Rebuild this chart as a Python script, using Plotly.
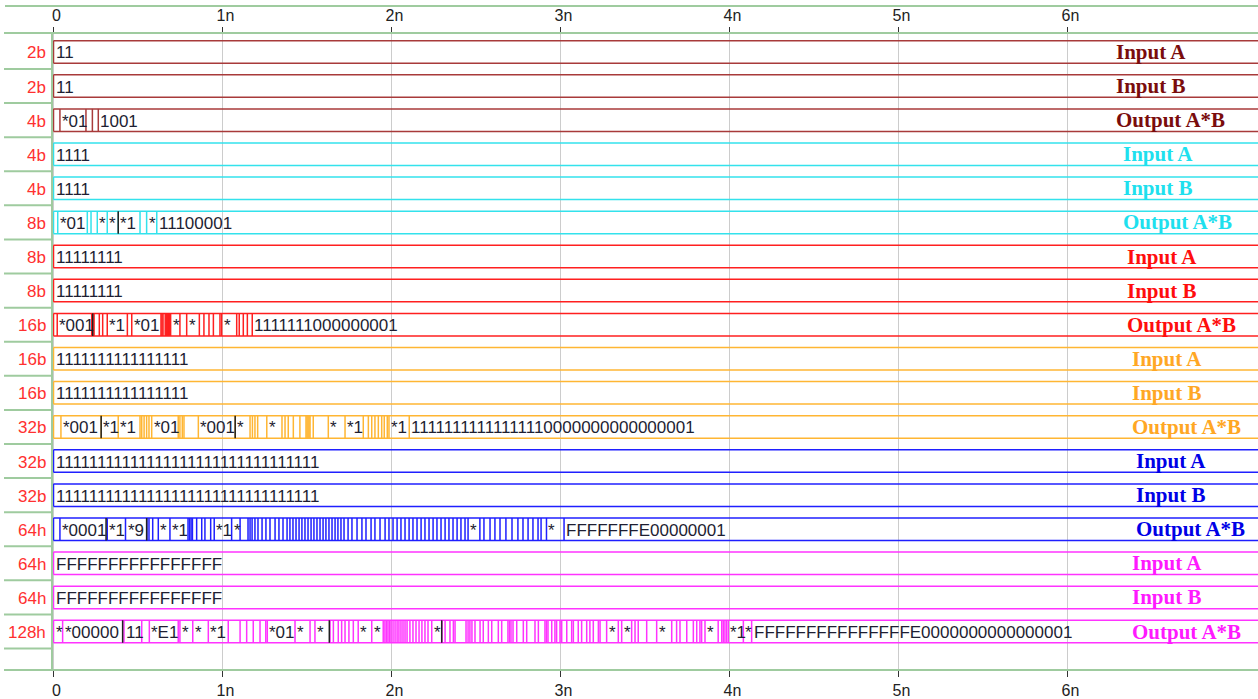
import plotly.graph_objects as go

# ---------------- time axis (picoseconds) ----------------
TICK_PS = [0, 1000, 2000, 3000, 4000, 5000, 6000]
TICK_TEXT = ["0", "1n", "2n", "3n", "4n", "5n", "6n"]
X_RANGE = [-316.6, 7127.2]
T_END = 7300

# ---------------- signal list ----------------
ROW_WIDTHS = ["2b", "2b", "4b", "4b", "4b", "8b", "8b", "8b", "16b", "16b", "16b",
              "32b", "32b", "32b", "64h", "64h", "64h", "128h"]
ROW_NAMES = ["Input A", "Input B", "Output A*B",
             "Input A", "Input B", "Output A*B",
             "Input A", "Input B", "Output A*B",
             "Input A", "Input B", "Output A*B",
             "Input A", "Input B", "Output A*B",
             "Input A", "Input B", "Output A*B"]

# constant operands
in2_a = "11"
in2_b = "11"
in4_a = "1111"
in4_b = "1111"
in8_a = "11111111"
in8_b = "11111111"
in16_a = "1111111111111111"
in16_b = "1111111111111111"
in32_a = "11111111111111111111111111111111"
in32_b = "11111111111111111111111111111111"
in64_a = "FFFFFFFFFFFFFFFF"
in64_b = "FFFFFFFFFFFFFFFF"

# product buses: transition times (ps), shown value per segment start, dark glitch marks
out4_t = [0, 38, 192, 230, 265]
out4_lbl = {38: "*01", 265: "1001"}
out4_dark = []

out8_t = [0, 25, 200, 222, 259, 318, 383, 512, 551, 611]
out8_lbl = {25: "*01", 259: "*", 318: "*", 383: "*1", 551: "*", 611: "11100001"}
out8_dark = [383]

out16_t = [0, 22, 226, 232, 240, 271, 291, 318, 437, 463, 636, 642, 648, 661, 667,
           673, 679, 685, 693, 748, 788, 863, 890, 920, 946, 985, 995, 1084, 1099,
           1123, 1147, 1176]
out16_lbl = {22: "*001", 318: "*1", 463: "*01", 693: "*", 788: "*", 995: "*",
             1176: "1111111000000001"}
out16_dark = [232]

out32_t = [0, 44, 282, 383, 512, 522, 536, 551, 565, 581, 738, 748, 762, 772, 857,
           1075, 1163, 1177, 1192, 1208, 1262, 1352, 1370, 1389, 1419, 1458, 1494,
           1500, 1506, 1512, 1518, 1537, 1626, 1725, 1833, 1863, 1883, 1902, 1922,
           1942, 1957, 1975, 1985, 2105]
out32_lbl = {44: "*001", 282: "*1", 383: "*1", 581: "*01", 857: "*001", 1075: "*",
             1262: "*", 1626: "*", 1725: "*1", 1985: "*1",
             2105: "11111111111111110000000000000001"}
out32_dark = [282, 1075]

out64_t = [0, 38, 318, 426, 553, 565, 587, 620, 689, 796, 805, 814, 822, 847, 877,
           896, 930, 951, 1054, 1104, 1151, 1163, 1175, 1192, 1210, 1234, 1257,
           1281, 1311, 1334, 1358, 1382, 1399, 1417, 1435, 1453, 1470, 1488, 1506,
           1524, 1541, 1559, 1577, 1595, 1612, 1630, 1648, 1666, 1683, 1701, 1719,
           1743, 1766, 1796, 1825, 1849, 1879, 1902, 1932, 1962, 1985, 2009, 2033,
           2056, 2080, 2104, 2127, 2151, 2175, 2198, 2222, 2246, 2269, 2293, 2317,
           2340, 2364, 2388, 2411, 2435, 2453, 2523, 2547, 2583, 2612, 2642, 2677,
           2713, 2748, 2778, 2808, 2837, 2867, 2885, 2917, 3021]
out64_lbl = {38: "*0001", 318: "*1", 426: "*9", 620: "*", 689: "*1", 951: "*1",
             1054: "*", 2453: "*", 2917: "*", 3021: "FFFFFFFE00000001"}
out64_dark = [311, 551]

out128_t = [0, 54, 417, 522, 567, 738, 748, 824, 916, 1034, 1104, 1143, 1182, 1222,
            1256, 1265, 1429, 1518, 1547, 1636, 1656, 1685, 1705, 1725, 1748, 1774,
            1803, 1883, 1951, 1961, 1970, 1979, 1988, 1997, 2009, 2021, 2033, 2044,
            2056, 2068, 2080, 2092, 2109, 2127, 2145, 2163, 2180, 2198, 2216, 2238,
            2299, 2317, 2346, 2366, 2376, 2441, 2453, 2464, 2476, 2494, 2524, 2543,
            2573, 2593, 2632, 2652, 2689, 2698, 2707, 2719, 2741, 2780, 2800, 2849,
            2869, 2908, 2917, 2926, 2948, 2967, 2977, 2997, 3007, 3037, 3066, 3076,
            3105, 3125, 3155, 3174, 3194, 3224, 3234, 3273, 3342, 3362, 3421, 3441,
            3460, 3510, 3569, 3658, 3687, 3707, 3747, 3786, 3806, 3825, 3835, 3855,
            3933, 3954, 3963, 3973, 3983, 3993, 4082, 4131]
out128_lbl = {0: "*", 54: "*00000", 417: "11", 567: "*E1", 748: "*", 824: "*",
              916: "*1", 1265: "*01", 1429: "*", 1547: "*", 1803: "*", 1883: "*",
              2238: "*", 3273: "*", 3362: "*", 3569: "*", 3855: "*", 3993: "*1",
              4082: "*", 4131: "FFFFFFFFFFFFFFFE0000000000000001"}
out128_dark = [409, 1632, 2297]

ROWS = [
    ([0], {0: in2_a}, []), ([0], {0: in2_b}, []), (out4_t, out4_lbl, out4_dark),
    ([0], {0: in4_a}, []), ([0], {0: in4_b}, []), (out8_t, out8_lbl, out8_dark),
    ([0], {0: in8_a}, []), ([0], {0: in8_b}, []), (out16_t, out16_lbl, out16_dark),
    ([0], {0: in16_a}, []), ([0], {0: in16_b}, []), (out32_t, out32_lbl, out32_dark),
    ([0], {0: in32_a}, []), ([0], {0: in32_b}, []), (out64_t, out64_lbl, out64_dark),
    ([0], {0: in64_a}, []), ([0], {0: in64_b}, []), (out128_t, out128_lbl, out128_dark),
]

# ---------------- styling ----------------
GROUP_LINE = ["#a83a3a", "#33e2ec", "#ff1f1f", "#ffb633", "#1f1fff", "#ff33ff"]
GROUP_TEXT = ["#7a0c0c", "#1ee0ee", "#ff0d0d", "#ffa724", "#0000e6", "#ff19ff"]
NAME_LEFT_PX = [1114, 1121, 1125, 1130, 1134, 1130]
GREEN = "#9fcb9f"
VALUE_COLOR = "#1e1e32"
W, H = 1258, 699
TOP, BOTTOM = 33, 672
HALF = 0.33
Y_RANGE = [18.129, -0.5556]

fig = go.Figure()

for i, (times, labels, darks) in enumerate(ROWS):
    g = i // 3
    xs = [0, T_END, None, 0, T_END, None]
    ys = [i - HALF, i - HALF, None, i + HALF, i + HALF, None]
    for t in times:
        xs += [t, t, None]
        ys += [i - HALF, i + HALF, None]
    fig.add_trace(go.Scatter(x=xs, y=ys, mode="lines",
                             line=dict(color=GROUP_LINE[g], width=1.5),
                             hoverinfo="skip", showlegend=False))
    if darks:
        dx, dy = [], []
        for t in darks:
            dx += [t, t, None]
            dy += [i - HALF, i + HALF, None]
        fig.add_trace(go.Scatter(x=dx, y=dy, mode="lines",
                                 line=dict(color="#202020", width=1.5),
                                 hoverinfo="skip", showlegend=False))
    for t, txt in labels.items():
        fig.add_annotation(x=t, y=i, text=txt, showarrow=False, xanchor="left",
                           yanchor="middle", xshift=0, yshift=-1,
                           font=dict(family="Liberation Sans", size=17, color=VALUE_COLOR))
    # width tag on the left
    fig.add_annotation(xref="paper", x=48 / W, y=i, text=ROW_WIDTHS[i], showarrow=False,
                       xanchor="right", yanchor="middle", yshift=-1,
                       font=dict(family="Liberation Sans", size=17, color="#ff3030"))
    # signal name on the right
    fig.add_annotation(xref="paper", x=NAME_LEFT_PX[g] / W, y=i, text=ROW_NAMES[i],
                       showarrow=False, xanchor="left", yanchor="middle",
                       font=dict(family="Liberation Serif", size=21, color=GROUP_TEXT[g],
                                 weight="bold"))

# invisible trace to carry the top time axis
fig.add_trace(go.Scatter(x=[0], y=[0], xaxis="x2", mode="markers",
                         marker=dict(opacity=0), hoverinfo="skip", showlegend=False))

shapes = []
# frame lines of the waveform window
py = lambda p: (BOTTOM - p) / (BOTTOM - TOP)
shapes.append(dict(type="line", xref="paper", yref="paper", x0=5 / W, x1=1,
                   y0=py(6), y1=py(6), line=dict(color=GREEN, width=2)))
shapes.append(dict(type="line", xref="paper", yref="paper", x0=4 / W, x1=1,
                   y0=1, y1=1, line=dict(color=GREEN, width=2)))
shapes.append(dict(type="line", xref="paper", yref="paper", x0=4 / W, x1=1,
                   y0=0, y1=0, line=dict(color=GREEN, width=2)))
shapes.append(dict(type="line", xref="paper", yref="paper", x0=52 / W, x1=52 / W,
                   y0=0, y1=1, line=dict(color=GREEN, width=2)))
for i in range(len(ROWS)):
    shapes.append(dict(type="line", xref="paper", yref="y", x0=4 / W, x1=52 / W,
                       y0=i + 0.5, y1=i + 0.5, line=dict(color=GREEN, width=2)))

axis_common = dict(range=X_RANGE, tickvals=TICK_PS, ticktext=TICK_TEXT,
                   ticks="outside", tickcolor="#333333", tickwidth=1,
                   showline=False, zeroline=False,
                   tickfont=dict(family="Liberation Sans", size=16, color="#222222"),
                   ticklabelshift=3)

fig.update_layout(
    width=W, height=H,
    margin=dict(l=0, r=0, t=TOP, b=H - BOTTOM, pad=0),
    paper_bgcolor="white", plot_bgcolor="white",
    xaxis=dict(**axis_common, side="bottom", ticklen=6, showgrid=True,
               gridcolor="#cccccc", gridwidth=1),
    xaxis2=dict(**axis_common, side="top", overlaying="x", matches="x", ticklen=5,
                showgrid=False),
    yaxis=dict(range=Y_RANGE, showgrid=False, zeroline=False, showticklabels=False,
               showline=False, ticks=""),
    shapes=shapes,
    showlegend=False,
)

fig.write_html("out.html")
